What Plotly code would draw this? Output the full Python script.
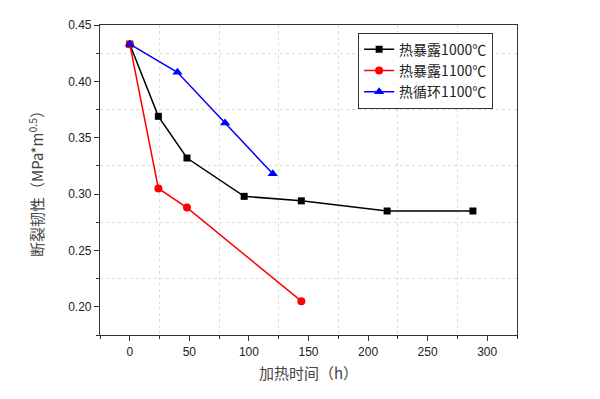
import plotly.graph_objects as go

x_black = [0, 24, 48, 96, 144, 216, 288]
y_black = [0.433, 0.369, 0.332, 0.298, 0.294, 0.285, 0.285]
x_red = [0, 24, 48, 144]
y_red = [0.433, 0.305, 0.288, 0.205]
x_blue = [0, 40, 80, 120]
y_blue = [0.433, 0.408, 0.363, 0.318]
names = ["热暴露1000℃", "热暴露1100℃", "热循环1100℃"]

fig = go.Figure()
fig.add_trace(go.Scatter(x=x_black, y=y_black, mode="lines+markers", name=names[0],
                         line=dict(color="black", width=1.5),
                         marker=dict(symbol="square", size=7, color="black")))
fig.add_trace(go.Scatter(x=x_red, y=y_red, mode="lines+markers", name=names[1],
                         line=dict(color="red", width=1.5),
                         marker=dict(symbol="circle", size=8, color="red")))
fig.add_trace(go.Scatter(x=x_blue, y=y_blue, mode="lines+markers", name=names[2],
                         line=dict(color="blue", width=1.5),
                         marker=dict(symbol="triangle-up", size=9, color="blue")))

axis_common = dict(showline=True, linecolor="#333", linewidth=1.2, mirror=True,
                   ticks="outside", ticklen=5, tickcolor="#333", showgrid=False,
                   zeroline=False, automargin=False,
                   tickfont=dict(family="Liberation Sans, Arial", size=12, color="#222"))

fig.update_layout(
    width=600, height=399,
    margin=dict(l=92, r=91, t=17, b=72),
    plot_bgcolor="white", paper_bgcolor="white",
    showlegend=True,
    legend=dict(x=0.619, y=0.975, xanchor="left", yanchor="top",
                bordercolor="#333", borderwidth=1, bgcolor="white",
                font=dict(family="Noto Sans CJK SC", size=14, color="#222"),
                tracegroupgap=0, itemwidth=30),
    xaxis=dict(range=[-25, 325], dtick=50, tick0=0,
               minor=dict(dtick=25, tick0=25, ticks="outside", ticklen=3, tickcolor="#333",
                          showgrid=True, gridcolor="#dddddd", griddash="dot"),
               title=dict(text="加热时间（h）", standoff=10,
                          font=dict(family="Noto Sans CJK SC", size=15, color="#444")),
               **axis_common),
    yaxis=dict(range=[0.175, 0.45], dtick=0.05, tick0=0.2, tickformat=".2f",
               minor=dict(dtick=0.025, tick0=0.175, ticks="outside", ticklen=3, tickcolor="#333",
                          showgrid=True, gridcolor="#dddddd", griddash="dot"),
               title=dict(text="断裂韧性（MPa*m<sup>0.5</sup>）", standoff=20,
                          font=dict(family="Noto Sans CJK SC", size=15, color="#444")),
               **axis_common),
)

fig.write_html("out.html")
